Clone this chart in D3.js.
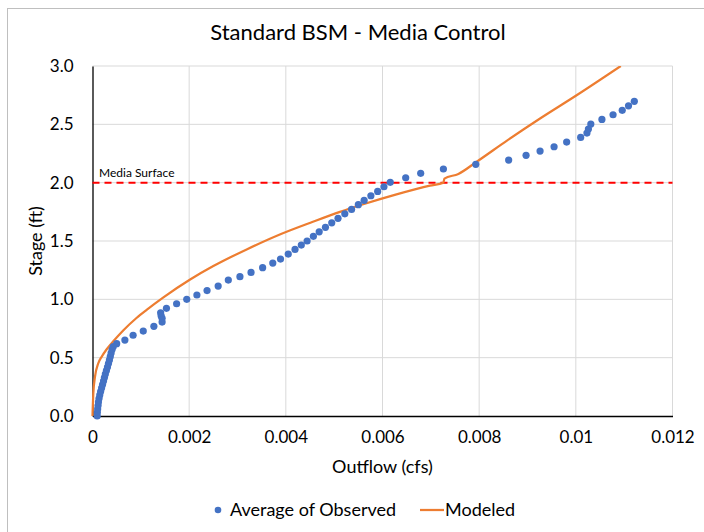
<!DOCTYPE html>
<html>
<head>
<meta charset="utf-8">
<script src="https://cdn.jsdelivr.net/npm/d3@7"></script>
<style>
  html, body { margin: 0; padding: 0; background: #fff; }
  svg { display: block; font-family: Lato, "Noto Sans", sans-serif; }
</style>
</head>
<body>
<svg id="chart" width="704" height="532"></svg>
<script>
// Observed (averaged) stage–outflow pairs
const obsOutflow = [
  0.000097, 0.0001, 0.000107, 0.000115, 0.000123, 0.000135, 0.00015, 0.000168,
  0.000188, 0.000208, 0.000228, 0.000247, 0.000266, 0.000288, 0.00031, 0.00033,
  0.00035, 0.000368, 0.000385, 0.000405, 0.00043, 0.0005,
  0.00067, 0.00084, 0.00105, 0.00127, 0.00144, 0.00144, 0.00142, 0.00141,
  0.00153, 0.00174, 0.00195, 0.00216, 0.00237, 0.0026, 0.00281, 0.00305,
  0.00328, 0.00352, 0.00373, 0.00389, 0.00405, 0.00419, 0.00432, 0.00444,
  0.00457, 0.00469, 0.00482, 0.00495, 0.00508, 0.00522, 0.00536, 0.0055,
  0.00562, 0.00576, 0.0059, 0.00603, 0.00616, 0.00648, 0.00679, 0.00726,
  0.00793, 0.00861, 0.00897, 0.00926, 0.00955, 0.00981, 0.0101, 0.01023,
  0.01026, 0.01031, 0.01054, 0.01077, 0.01096, 0.01109, 0.01121
];
const obsStage = [
  0.0, 0.03, 0.06, 0.09, 0.12, 0.15, 0.18, 0.21,
  0.24, 0.27, 0.30, 0.33, 0.36, 0.39, 0.42, 0.45,
  0.48, 0.51, 0.54, 0.57, 0.595, 0.62,
  0.651, 0.692, 0.728, 0.769, 0.805, 0.837, 0.859, 0.885,
  0.923, 0.962, 1.0, 1.037, 1.075, 1.114, 1.165, 1.194,
  1.231, 1.271, 1.311, 1.345, 1.388, 1.428, 1.465, 1.5,
  1.54, 1.579, 1.617, 1.656, 1.694, 1.733, 1.771, 1.811,
  1.848, 1.888, 1.925, 1.965, 2.003, 2.042, 2.08, 2.117,
  2.157, 2.194, 2.234, 2.271, 2.308, 2.348, 2.388, 2.425,
  2.459, 2.502, 2.542, 2.582, 2.62, 2.659, 2.697
];

// Modeled rating curve
const modOutflow = [
  0, 0.000017, 0.000052, 0.00012, 0.00019, 0.00029, 0.00043, 0.00064, 0.00091,
  0.00112, 0.00146, 0.00202, 0.0025, 0.0032, 0.0039, 0.00456, 0.00512, 0.0056,
  0.00629, 0.00698, 0.00726, 0.00728, 0.00757, 0.00795, 0.00859, 0.00926,
  0.0100, 0.01093
];
const modStage = [
  0, 0.195, 0.337, 0.452, 0.508, 0.57, 0.64, 0.735, 0.84,
  0.91, 1.015, 1.17, 1.285, 1.43, 1.56, 1.665, 1.75, 1.815,
  1.9, 1.975, 2.0, 2.035, 2.075, 2.18, 2.365, 2.55,
  2.745, 3.0
];

const mediaSurface = 2.0;
const xTicks = [0, 0.002, 0.004, 0.006, 0.008, 0.01, 0.012];
const yTicks = [0, 0.5, 1.0, 1.5, 2.0, 2.5, 3.0];

const title = "Standard BSM - Media Control";
const xTitle = "Outflow (cfs)";
const yTitle = "Stage (ft)";
const seriesNames = ["Average of Observed", "Modeled"];

const colors = { observed: "#4472C4", modeled: "#ED7D31", media: "#FF0000", grid: "#d9d9d9", text: "#000" };

const svg = d3.select("#chart");
const W = 704, H = 532;
const plot = { left: 92.5, top: 66, right: 672.5, bottom: 416 };

// Chart frame
svg.append("rect")
  .attr("x", 7.5).attr("y", 8.5).attr("width", W + 10).attr("height", H + 10)
  .attr("fill", "#fff").attr("stroke", "#bfbfbf").attr("stroke-width", 1);

const x = d3.scaleLinear().domain([0, 0.012]).range([plot.left, plot.right]);
const y = d3.scaleLinear().domain([0, 3.0]).range([plot.bottom, plot.top]);

// Gridlines
const grid = svg.append("g");
grid.selectAll("line.v").data(xTicks.slice(1)).join("line")
  .attr("x1", d => x(d)).attr("x2", d => x(d))
  .attr("y1", plot.top).attr("y2", plot.bottom)
  .attr("stroke", colors.grid).attr("stroke-width", 1);
grid.selectAll("line.h").data(yTicks.slice(1)).join("line")
  .attr("x1", plot.left).attr("x2", plot.right)
  .attr("y1", d => y(d)).attr("y2", d => y(d))
  .attr("stroke", colors.grid).attr("stroke-width", 1);

// Axes
const fmtX = d => d === 0 ? "0" : String(+d.toFixed(3));
const xAxis = svg.append("g")
  .attr("transform", `translate(0,${plot.bottom})`)
  .call(d3.axisBottom(x).tickValues(xTicks).tickFormat(fmtX).tickSize(0).tickPadding(15));
const yAxis = svg.append("g")
  .attr("transform", `translate(${plot.left},0)`)
  .call(d3.axisLeft(y).tickValues(yTicks).tickFormat(d3.format(".1f")).tickSize(0).tickPadding(19));
[xAxis, yAxis].forEach(a => {
  a.select(".domain").attr("stroke", "#000").attr("stroke-width", 1.3);
  a.selectAll("text").attr("font-size", 17).attr("fill", colors.text).attr("font-family", "Lato, 'Noto Sans', sans-serif");
});

// Media surface reference line
svg.append("line")
  .attr("x1", plot.left).attr("x2", plot.right)
  .attr("y1", y(mediaSurface)).attr("y2", y(mediaSurface))
  .attr("stroke", colors.media).attr("stroke-width", 2)
  .attr("stroke-dasharray", "7,5");
svg.append("text")
  .attr("x", 99).attr("y", y(mediaSurface) - 6)
  .attr("font-size", 12).attr("fill", colors.text)
  .text("Media Surface");

// Modeled curve
svg.append("defs").append("clipPath").attr("id", "plotClip")
  .append("rect").attr("x", plot.left - 2).attr("y", plot.top)
  .attr("width", plot.right - plot.left + 4).attr("height", plot.bottom - plot.top + 2);

const modeled = modOutflow.map((v, i) => [v, modStage[i]]);
svg.append("path")
  .datum(modeled)
  .attr("clip-path", "url(#plotClip)")
  .attr("fill", "none").attr("stroke", colors.modeled).attr("stroke-width", 2.25)
  .attr("stroke-linejoin", "round")
  .attr("d", d3.line().x(d => x(d[0])).y(d => y(d[1])).curve(d3.curveMonotoneX));

// Observed points
const observed = obsOutflow.map((v, i) => [v, obsStage[i]]);
svg.append("g").selectAll("circle").data(observed).join("circle")
  .attr("cx", d => x(d[0])).attr("cy", d => y(d[1])).attr("r", 3.6)
  .attr("fill", colors.observed);

// Titles
svg.append("text")
  .attr("x", 358).attr("y", 40).attr("text-anchor", "middle")
  .attr("font-size", 22).attr("fill", colors.text).text(title);
svg.append("text")
  .attr("x", (plot.left + plot.right) / 2).attr("y", 473).attr("text-anchor", "middle")
  .attr("font-size", 18).attr("fill", colors.text).text(xTitle);
svg.append("text")
  .attr("transform", `translate(42,${(plot.top + plot.bottom) / 2}) rotate(-90)`)
  .attr("text-anchor", "middle")
  .attr("font-size", 18).attr("fill", colors.text).text(yTitle);

// Legend
const legend = svg.append("g");
legend.append("circle").attr("cx", 218).attr("cy", 510).attr("r", 3.3).attr("fill", colors.observed);
legend.append("text").attr("x", 230).attr("y", 516).attr("font-size", 18).attr("fill", colors.text).text(seriesNames[0]);
legend.append("line").attr("x1", 420).attr("x2", 444).attr("y1", 510).attr("y2", 510)
  .attr("stroke", colors.modeled).attr("stroke-width", 2.25);
legend.append("text").attr("x", 445).attr("y", 516).attr("font-size", 18).attr("fill", colors.text).text(seriesNames[1]);
</script>
</body>
</html>
